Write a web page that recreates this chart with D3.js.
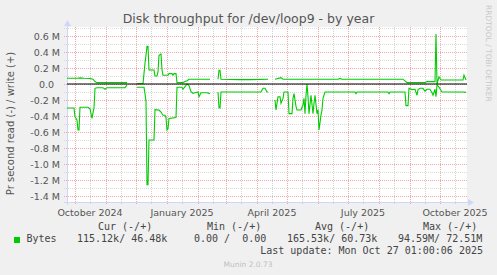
<!DOCTYPE html>
<html>
<head>
<meta charset="utf-8">
<script src="https://cdn.jsdelivr.net/npm/d3@7"></script>
<style>
body { margin: 0; background: #f0f0f0; }
svg { display: block; }
text { font-family: "DejaVu Sans", sans-serif; fill: #555; }
.mono { font-family: "DejaVu Sans Mono", monospace; font-size: 10px; fill: #444; }
</style>
</head>
<body>
<svg id="chart" width="497" height="275"></svg>
<script>
// write (+) samples, bytes/s
var writeDates = ["2024-09-23", "2024-10-04", "2024-10-06", "2024-10-10", "2024-10-16", "2024-10-19", "2024-10-21", "2024-10-23",
	"2024-11-21", "2024-11-22", "2024-11-23",
	"2024-12-02", "2024-12-08", "2024-12-10", "2024-12-11", "2024-12-12", "2024-12-13", "2024-12-14", "2024-12-19",
	"2024-12-20", "2024-12-22", "2024-12-23", "2024-12-24", "2024-12-26", "2024-12-27", "2024-12-28",
	"2025-01-02", "2025-01-03", "2025-01-06", "2025-01-07", "2025-01-08", "2025-01-10", "2025-01-11", "2025-01-17",
	"2025-01-19", "2025-01-21", "2025-01-23", "2025-02-13", "2025-02-14",
	"2025-02-21", "2025-02-22", "2025-02-23", "2025-02-24", "2025-03-15", "2025-03-25", "2025-04-12", "2025-04-13",
	"2025-04-19", "2025-04-25", "2025-04-27", "2025-06-21", "2025-06-23", "2025-06-25", "2025-08-25", "2025-08-29",
	"2025-09-16", "2025-09-18", "2025-09-26", "2025-09-27", "2025-09-28", "2025-09-30", "2025-10-02",
	"2025-10-24", "2025-10-25", "2025-10-27"];
var writeVals = [71e3, 71e3, 76e3, 71e3, 68e3, 60e3, 30e3, 17e3,
	17e3, 20e3, null,
	3e3, 5e3, 260e3, 360e3, 470e3, 470e3, 175e3, 175e3,
	100e3, 100e3, 150e3, 360e3, 375e3, 175e3, 110e3,
	110e3, 130e3, 130e3, 110e3, 130e3, 130e3, 17e3, 17e3,
	30e3, 40e3, 60e3, 60e3, null,
	60e3, 170e3, 170e3, 60e3, 55e3, 55e3, 60e3, null,
	60e3, 80e3, 60e3, 60e3, 70e3, 60e3, 60e3, 17e3,
	17e3, 30e3, 30e3, 625e3, 0, 90e3, 50e3,
	50e3, 110e3, 50e3];

// read (-) samples, bytes/s, drawn below zero
var readDates = ["2024-09-23", "2024-09-30", "2024-10-01", "2024-10-03", "2024-10-04", "2024-10-05", "2024-10-06", "2024-10-14",
	"2024-10-16", "2024-10-18", "2024-10-19", "2024-10-20", "2024-10-21", "2024-10-23", "2024-10-29", "2024-10-31",
	"2024-11-02", "2024-11-20", "2024-11-22", "2024-11-23",
	"2024-12-02", "2024-12-09", "2024-12-10", "2024-12-11", "2024-12-12", "2024-12-13", "2024-12-14", "2024-12-19",
	"2024-12-20", "2024-12-24", "2024-12-26", "2024-12-28", "2024-12-30", "2024-12-31", "2025-01-01", "2025-01-02",
	"2025-01-03", "2025-01-10", "2025-01-11", "2025-01-16", "2025-01-17", "2025-01-19", "2025-01-21", "2025-01-23",
	"2025-01-25", "2025-01-27", "2025-01-29", "2025-02-01", "2025-02-02", "2025-02-04", "2025-02-10", "2025-02-13", "2025-02-14",
	"2025-02-21", "2025-02-22", "2025-02-23", "2025-02-24", "2025-04-05", "2025-04-07", "2025-04-09", "2025-04-11",
	"2025-04-12", "2025-04-13",
	"2025-04-19", "2025-04-20", "2025-04-22", "2025-04-24", "2025-04-25", "2025-04-27", "2025-04-28", "2025-05-02",
	"2025-05-03", "2025-05-06", "2025-05-07", "2025-05-08", "2025-05-10", "2025-05-11", "2025-05-15", "2025-05-17",
	"2025-05-18", "2025-05-19", "2025-05-20", "2025-05-21", "2025-05-22", "2025-05-23", "2025-05-25", "2025-05-27",
	"2025-05-28", "2025-05-29", "2025-05-31", "2025-06-01", "2025-06-02", "2025-06-04", "2025-06-05", "2025-06-06",
	"2025-06-08", "2025-07-08", "2025-07-09", "2025-07-10", "2025-08-10", "2025-08-11", "2025-08-12", "2025-08-27",
	"2025-08-28", "2025-08-30", "2025-08-31", "2025-09-03", "2025-09-06", "2025-09-08", "2025-09-09", "2025-09-11",
	"2025-09-14", "2025-09-16", "2025-09-18", "2025-09-21", "2025-09-23", "2025-09-24", "2025-09-26", "2025-09-27",
	"2025-09-28", "2025-09-30", "2025-10-03", "2025-10-24", "2025-10-27"];
var readVals = [300e3, 300e3, 410e3, 450e3, 575e3, 575e3, 290e3, 290e3,
	310e3, 430e3, 360e3, 300e3, 54e3, 46e3, 46e3, 66e3,
	46e3, 46e3, 12e3, null,
	40e3, 40e3, 120e3, 220e3, 1260e3, 1260e3, 700e3, 700e3,
	320e3, 325e3, 350e3, 390e3, 390e3, 420e3, 575e3, 560e3,
	430e3, 420e3, 40e3, 40e3, 66e3, 33e3, 0, 20e3,
	96e3, 116e3, 110e3, 100e3, 160e3, 110e3, 110e3, 120e3, null,
	100e3, 300e3, 300e3, 100e3, 100e3, 54e3, 54e3, 100e3,
	100e3, null,
	200e3, 325e3, 160e3, 160e3, 240e3, 180e3, 100e3, 100e3,
	370e3, 370e3, 180e3, 120e3, 280e3, 325e3, 325e3, 260e3,
	180e3, 370e3, 140e3, 0, 160e3, 370e3, 140e3, 370e3,
	240e3, 140e3, 370e3, 325e3, 575e3, 390e3, 325e3, 180e3,
	100e3, 100e3, 120e3, 100e3, 100e3, 120e3, 100e3, 100e3,
	270e3, 270e3, 54e3, 70e3, 66e3, 140e3, 70e3, 54e3,
	54e3, 90e3, 66e3, 66e3, 110e3, 140e3, 66e3, 160e3,
	12e3, 40e3, 100e3, 100e3, 105e3];

var yMajor = [-1.4e6, -1.2e6, -1.0e6, -0.8e6, -0.6e6, -0.4e6, -0.2e6, 0, 0.2e6, 0.4e6, 0.6e6];
var yLabels = ["-1.4 M", "-1.2 M", "-1.0 M", "-0.8 M", "-0.6 M", "-0.4 M", "-0.2 M", "0.0", "0.2 M", "0.4 M", "0.6 M"];
var monthLabels = ["October 2024", "January 2025", "April 2025", "July 2025", "October 2025"];
var legendHead = ["Cur (-/+)", "Min (-/+)", "Avg (-/+)", "Max (-/+)"];
var legendVals = ["115.12k/ 46.48k", "0.00 /  0.00", "165.53k/ 60.73k", "94.59M/ 72.51M"];

var svg = d3.select("#chart");
// plot box (note: "top" is reserved on window, so use p* names)
var pLeft = 67, pRight = 467, pTop = 27, pBottom = 202;

var x = d3.scaleUtc()
	.domain([new Date("2024-09-22"), new Date("2025-10-27")])
	.range([66, 466]);
var y = d3.scaleLinear().domain([-1.475e6, 0.7125e6]).range([pBottom, pTop]);

svg.append("rect").attr("width", 497).attr("height", 275).attr("fill", "#f0f0f0");
svg.append("rect").attr("x", pLeft).attr("y", pTop).attr("width", pRight - pLeft).attr("height", pBottom - pTop).attr("fill", "#fff");

// grid
var g = svg.append("g").attr("shape-rendering", "crispEdges");
var minorY = d3.range(-14, 8).map(function(k) { return k * 1e5; }).filter(function(v) { return Math.abs(v % 2e5) > 1; });
g.selectAll(".hmin").data(minorY).enter().append("line")
	.attr("x1", pLeft - 3).attr("x2", pRight)
	.attr("y1", function(d) { return Math.round(y(d)) + 0.5; }).attr("y2", function(d) { return Math.round(y(d)) + 0.5; })
	.attr("stroke", "#dcdcdc").attr("stroke-dasharray", "1,1");
// minor vertical lines halfway through each month
var midMonths = d3.utcMonth.range(d3.utcMonth.offset(x.domain()[0], -1), x.domain()[1])
	.map(function(m) { return d3.utcDay.offset(m, 15); })
	.filter(function(d) { return d > x.domain()[0] && d < x.domain()[1]; });
g.selectAll(".vmin").data(midMonths).enter().append("line")
	.attr("x1", function(d) { return Math.round(x(d)) + 0.5; }).attr("x2", function(d) { return Math.round(x(d)) + 0.5; })
	.attr("y1", pTop).attr("y2", pBottom + 3)
	.attr("stroke", "#d4d4d4").attr("stroke-dasharray", "1,1");
g.selectAll(".hmaj").data(yMajor).enter().append("line")
	.attr("x1", pLeft - 3).attr("x2", pRight)
	.attr("y1", function(d) { return Math.round(y(d)) + 0.5; }).attr("y2", function(d) { return Math.round(y(d)) + 0.5; })
	.attr("stroke", "#eeaaaa").attr("stroke-dasharray", "1,1");
var months = d3.utcMonth.range(x.domain()[0], x.domain()[1]);
g.selectAll(".vmaj").data(months).enter().append("line")
	.attr("x1", function(d) { return Math.round(x(d)) + 0.5; }).attr("x2", function(d) { return Math.round(x(d)) + 0.5; })
	.attr("y1", pTop).attr("y2", pBottom + 3)
	.attr("stroke", "#eeaaaa").attr("stroke-dasharray", "1,1");

// axes
svg.append("line").attr("x1", pLeft - 3).attr("x2", pRight + 2).attr("y1", pBottom + 0.5).attr("y2", pBottom + 0.5)
	.attr("stroke", "#cfd6f8").attr("shape-rendering", "crispEdges");
svg.append("line").attr("x1", pLeft + 0.5).attr("x2", pLeft + 0.5).attr("y1", pBottom + 3).attr("y2", pTop - 3)
	.attr("stroke", "#cfd6f8").attr("shape-rendering", "crispEdges");
svg.append("path").attr("d", "M" + (pRight + 1) + "," + (pBottom - 3) + "L" + (pRight + 7) + "," + (pBottom + 0.5) + "L" + (pRight + 1) + "," + (pBottom + 4) + "Z").attr("fill", "#cfd6f8");
svg.append("path").attr("d", "M" + (pLeft - 3) + "," + (pTop - 1) + "L" + (pLeft + 0.5) + "," + (pTop - 7) + "L" + (pLeft + 4) + "," + (pTop - 1) + "Z").attr("fill", "#cfd6f8");

// y labels
svg.selectAll(".ylab").data(yMajor).enter().append("text")
	.attr("x", function(d) { return d === 0 ? 54 : 60; })
	.attr("y", function(d) { return y(d) + 3.5; })
	.attr("text-anchor", "end").attr("font-size", "9.5px")
	.text(function(d, i) { return yLabels[i]; });

// x labels, centred in the middle of the month
var labelMonths = d3.utcMonth.every(3).range(x.domain()[0], x.domain()[1]);
svg.selectAll(".xlab").data(labelMonths).enter().append("text")
	.attr("x", function(d) { return x(d3.utcDay.offset(d, 15)); })
	.attr("y", 216).attr("text-anchor", "middle").attr("font-size", "9.5px")
	.text(function(d, i) { return monthLabels[i]; });

// series
var writeData = writeDates.map(function(d, i) { return { t: new Date(d), v: writeVals[i] }; });
var readData = readDates.map(function(d, i) { return { t: new Date(d), v: readVals[i] }; });
var line = d3.line().defined(function(d) { return d.v !== null; })
	.x(function(d) { return x(d.t); });
svg.append("path").datum(readData)
	.attr("d", line.y(function(d) { return y(-d.v); }))
	.attr("fill", "none").attr("stroke", "#00cc00").attr("stroke-width", 1.1);
svg.append("path").datum(writeData)
	.attr("d", line.y(function(d) { return y(d.v); }))
	.attr("fill", "none").attr("stroke", "#00cc00").attr("stroke-width", 1.1);

// zero rule
svg.append("line").attr("x1", pLeft).attr("x2", pRight).attr("y1", y(0)).attr("y2", y(0))
	.attr("stroke", "#000").attr("stroke-width", 1.2);

// titles
svg.append("text").attr("x", 248.5).attr("y", 23).attr("text-anchor", "middle")
	.attr("font-size", "12.5px").text("Disk throughput for /dev/loop9 - by year");
svg.append("text").attr("transform", "translate(14,123.5) rotate(-90)").attr("text-anchor", "middle")
	.attr("font-size", "10px").text("Pr second read (-) / write (+)");
svg.append("text").attr("transform", "translate(486,5) rotate(90)").attr("text-anchor", "start")
	.attr("font-size", "7.5px").style("fill", "#c8c8c8").text("RRDTOOL / TOBI OETIKER");

// legend
var headX = [98, 207, 315, 423];
var valX = [77, 194, 287, 398];
svg.selectAll(".lh").data(legendHead).enter().append("text").attr("class", "mono")
	.attr("x", function(d, i) { return headX[i]; }).attr("y", 230).text(function(d) { return d; });
svg.append("rect").attr("x", 14).attr("y", 237).attr("width", 6).attr("height", 6).attr("fill", "#00cc00");
svg.append("text").attr("class", "mono").attr("x", 26.5).attr("y", 242).text("Bytes");
svg.selectAll(".lv").data(legendVals).enter().append("text").attr("class", "mono")
	.attr("x", function(d, i) { return valX[i]; }).attr("y", 242)
	.style("white-space", "pre").text(function(d) { return d; });
svg.append("text").attr("class", "mono").attr("x", 483).attr("y", 254).attr("text-anchor", "end")
	.text("Last update: Mon Oct 27 01:00:06 2025");
svg.append("text").attr("x", 248).attr("y", 267).attr("text-anchor", "middle").attr("font-size", "7.5px")
	.style("fill", "#c0c0c0").text("Munin 2.0.73");
</script>
</body>
</html>
